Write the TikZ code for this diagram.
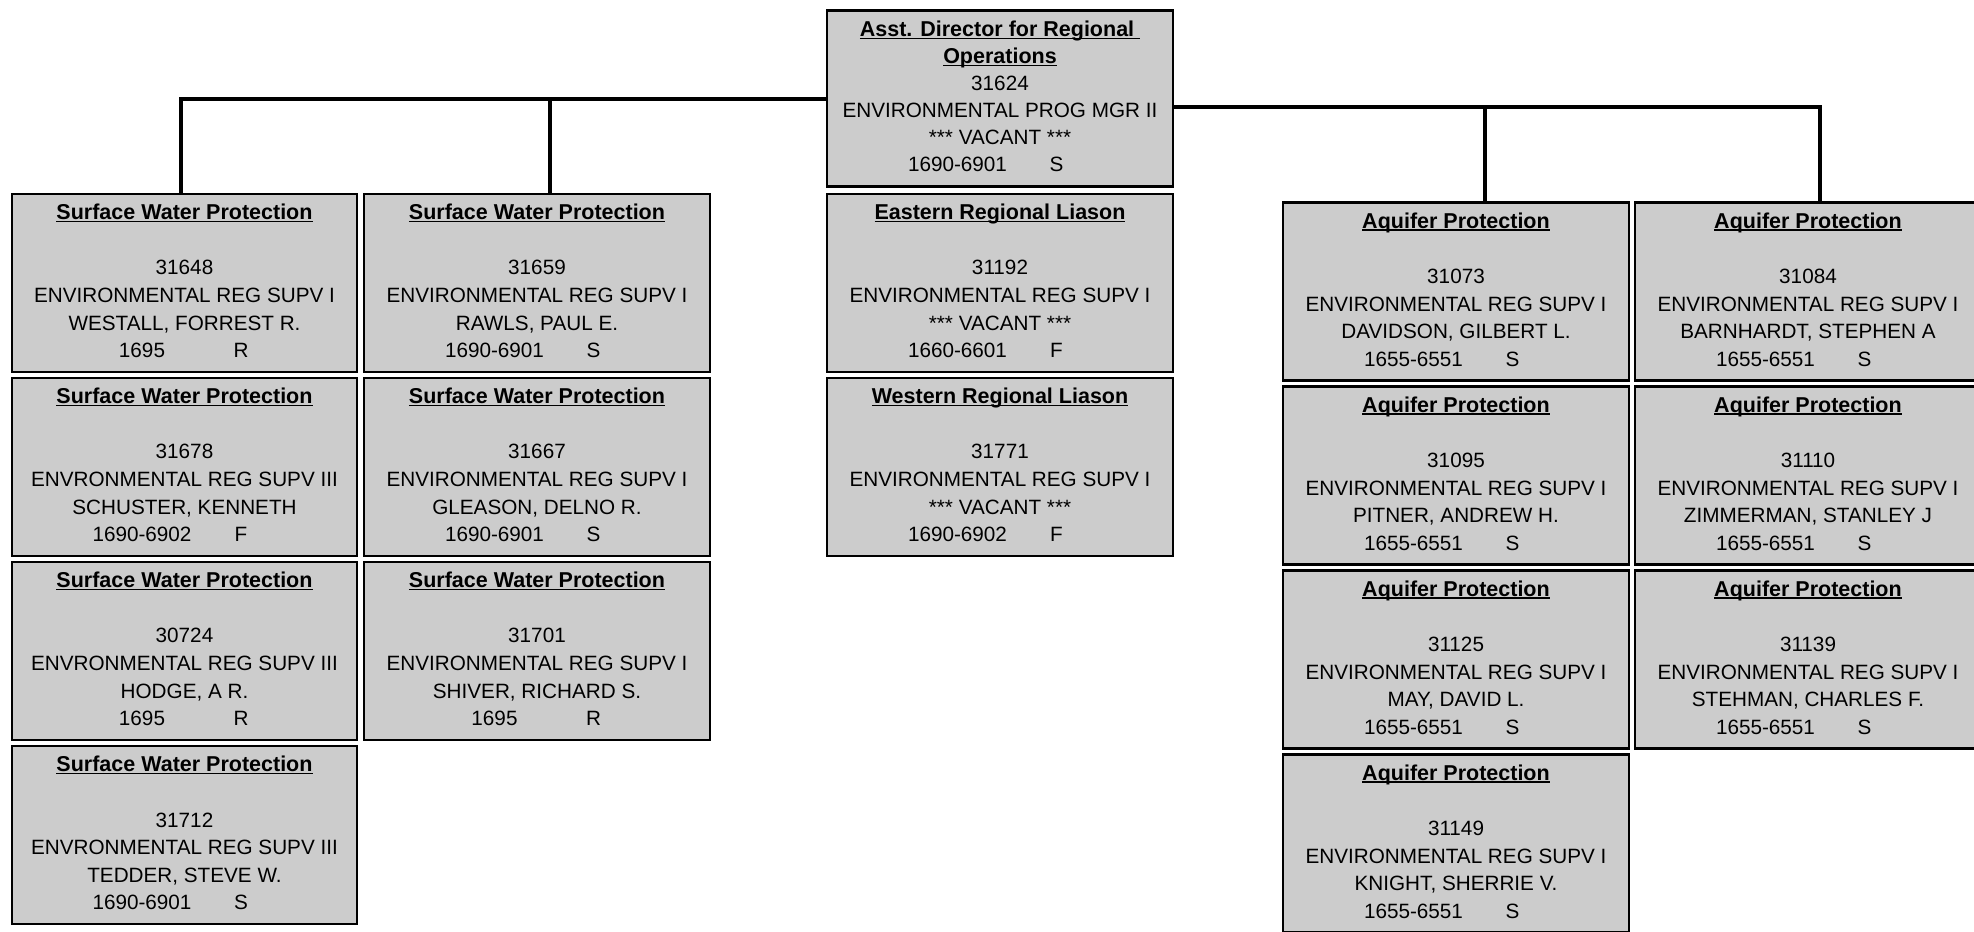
\documentclass[tikz,border=0pt]{standalone}
\usepackage{fontspec}
\setmainfont{Liberation Sans}
\definecolor{boxgray}{RGB}{204,204,204}
% underlined heading with the rule at a fixed depth
\newcommand\uln[1]{\setbox0=\hbox{#1}\rlap{\rule[-2.6pt]{\wd0}{1.6pt}}\box0}
\newcommand\ttl[1]{{\fontsize{21.5}{27.6}\selectfont\textbf{\uln{#1}}}}
% position code and status letter in two fixed columns (with a little depth below)
\newcommand\code[2]{\makebox[113pt]{#1}\makebox[85pt]{#2}\rule[-4pt]{0pt}{4pt}}
\tikzset{
  post/.style={draw=black, line width=2.5pt, fill=boxgray,
    minimum width=346pt, minimum height=178pt, inner sep=0pt,
    align=center, font=\fontsize{20.7}{27.6}\selectfont},
  link/.style={line width=4pt}
}
\begin{document}
\begin{tikzpicture}[x=1pt,y=-1pt]
\useasboundingbox (0,0) rectangle (1974,932);

% head of the section
\node[post, minimum height=176pt, font=\fontsize{20.7}{27}\selectfont] (top) at (1000,98.5)
  {\ttl{Asst. Director for Regional\ }\\\ttl{Operations}\\31624\\ENVIRONMENTAL PROG MGR II\\*** VACANT ***\\\code{1690-6901}{S}};

% surface water protection, first column
\node[post, minimum width=345pt] (a1) at (184.5,283)
  {\ttl{Surface Water Protection}\\[27.6pt]31648\\ENVIRONMENTAL REG SUPV I\\WESTALL, FORREST R.\\\code{1695}{R}};
\node[post, minimum width=345pt] (a2) at (184.5,467)
  {\ttl{Surface Water Protection}\\[27.6pt]31678\\ENVRONMENTAL REG SUPV III\\SCHUSTER, KENNETH\\\code{1690-6902}{F}};
\node[post, minimum width=345pt] (a3) at (184.5,651)
  {\ttl{Surface Water Protection}\\[27.6pt]30724\\ENVRONMENTAL REG SUPV III\\HODGE, A R.\\\code{1695}{R}};
\node[post, minimum width=345pt] (a4) at (184.5,835)
  {\ttl{Surface Water Protection}\\[27.6pt]31712\\ENVRONMENTAL REG SUPV III\\TEDDER, STEVE W.\\\code{1690-6901}{S}};

% surface water protection, second column
\node[post] (b1) at (537,283)
  {\ttl{Surface Water Protection}\\[27.6pt]31659\\ENVIRONMENTAL REG SUPV I\\RAWLS, PAUL E.\\\code{1690-6901}{S}};
\node[post] (b2) at (537,467)
  {\ttl{Surface Water Protection}\\[27.6pt]31667\\ENVIRONMENTAL REG SUPV I\\GLEASON, DELNO R.\\\code{1690-6901}{S}};
\node[post] (b3) at (537,651)
  {\ttl{Surface Water Protection}\\[27.6pt]31701\\ENVIRONMENTAL REG SUPV I\\SHIVER, RICHARD S.\\\code{1695}{R}};

% regional liaisons under the head
\node[post] (east) at (1000,283)
  {\ttl{Eastern Regional Liason}\\[27.6pt]31192\\ENVIRONMENTAL REG SUPV I\\*** VACANT ***\\\code{1660-6601}{F}};
\node[post] (west) at (1000,467)
  {\ttl{Western Regional Liason}\\[27.6pt]31771\\ENVIRONMENTAL REG SUPV I\\*** VACANT ***\\\code{1690-6902}{F}};

% aquifer protection, first column
\node[post] (c1) at (1456,291.5)
  {\ttl{Aquifer Protection}\\[27.6pt]31073\\ENVIRONMENTAL REG SUPV I\\DAVIDSON, GILBERT L.\\\code{1655-6551}{S}};
\node[post] (c2) at (1456,475.5)
  {\ttl{Aquifer Protection}\\[27.6pt]31095\\ENVIRONMENTAL REG SUPV I\\PITNER, ANDREW H.\\\code{1655-6551}{S}};
\node[post] (c3) at (1456,659.5)
  {\ttl{Aquifer Protection}\\[27.6pt]31125\\ENVIRONMENTAL REG SUPV I\\MAY, DAVID L.\\\code{1655-6551}{S}};
\node[post] (c4) at (1456,843.5)
  {\ttl{Aquifer Protection}\\[27.6pt]31149\\ENVIRONMENTAL REG SUPV I\\KNIGHT, SHERRIE V.\\\code{1655-6551}{S}};

% aquifer protection, second column
\node[post] (d1) at (1808,291.5)
  {\ttl{Aquifer Protection}\\[27.6pt]31084\\ENVIRONMENTAL REG SUPV I\\BARNHARDT, STEPHEN A\\\code{1655-6551}{S}};
\node[post] (d2) at (1808,475.5)
  {\ttl{Aquifer Protection}\\[27.6pt]31110\\ENVIRONMENTAL REG SUPV I\\ZIMMERMAN, STANLEY J\\\code{1655-6551}{S}};
\node[post] (d3) at (1808,659.5)
  {\ttl{Aquifer Protection}\\[27.6pt]31139\\ENVIRONMENTAL REG SUPV I\\STEHMAN, CHARLES F.\\\code{1655-6551}{S}};

% reporting lines
\draw[link] (top.west) -| ([xshift=-3.5pt]a1.north);
\draw[link] (top.west) -| ([xshift=13pt]b1.north);
\draw[link] ([yshift=-8.5pt]top.east) -| ([xshift=29pt]c1.north);
\draw[link] ([yshift=-8.5pt]top.east) -| ([xshift=12pt]d1.north);
\end{tikzpicture}
\end{document}
